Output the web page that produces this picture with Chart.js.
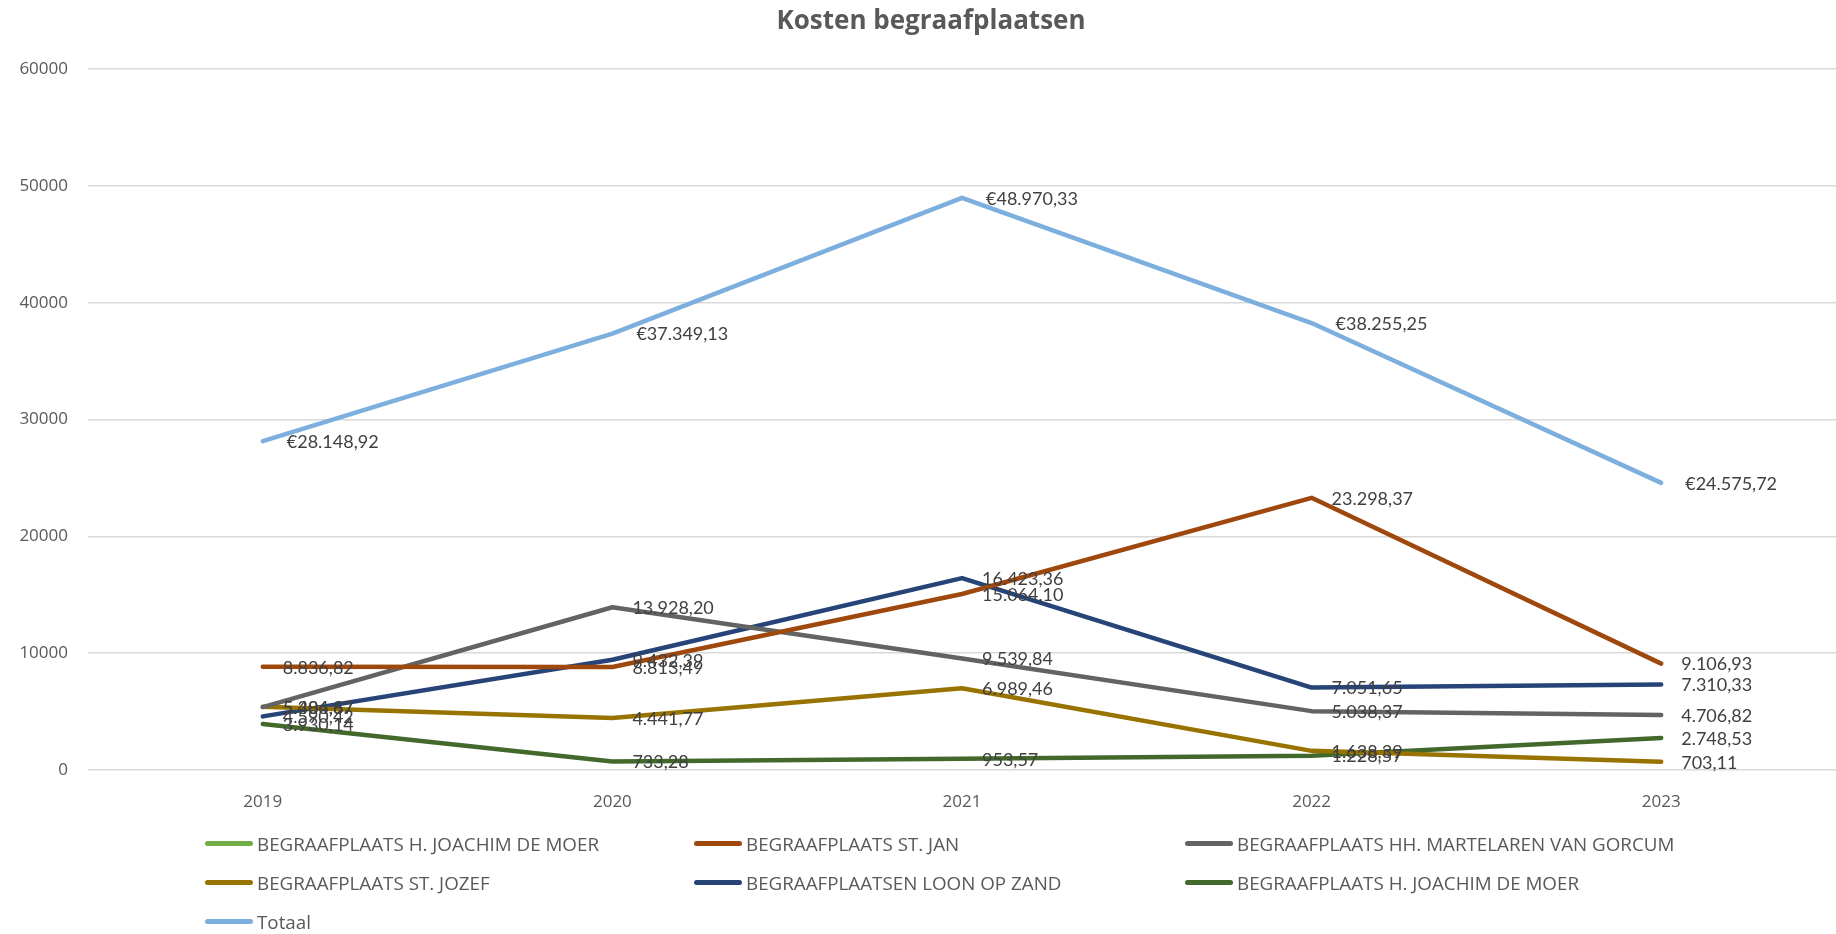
<!DOCTYPE html>
<html>
<head>
<meta charset="utf-8">
<script src="https://cdn.jsdelivr.net/npm/chart.js@4.4.1/dist/chart.umd.min.js"></script>
<style>
  html, body { margin: 0; padding: 0; background: #fff; }
  #wrap { position: relative; width: 1836px; height: 934px; overflow: hidden; }
  #legend {
    position: absolute; left: 205px; top: 824px;
    display: grid; grid-template-columns: 489px 491px 489px;
    grid-auto-rows: 39px;
    font-family: "Liberation Sans Narrow", "Open Sans", sans-serif;
    font-size: 18.8px; color: #595959;
  }
  .item { display: flex; align-items: center; white-space: nowrap; }
  .swatch { width: 48px; height: 5px; border-radius: 3px; margin-right: 4px; flex: none; }
</style>
</head>
<body>
<div id="wrap">
  <canvas id="chart" width="1836" height="934"></canvas>
  <div id="legend"></div>
</div>
<script>
const years = ["2019", "2020", "2021", "2022", "2023"];

const seriesNames = [
    "BEGRAAFPLAATS H. JOACHIM DE MOER",
    "BEGRAAFPLAATS ST. JAN",
    "BEGRAAFPLAATS HH. MARTELAREN VAN GORCUM",
    "BEGRAAFPLAATS ST. JOZEF",
    "BEGRAAFPLAATSEN LOON OP ZAND",
    "BEGRAAFPLAATS H. JOACHIM DE MOER",
    "Totaal"
];
const seriesColors = ["#70ad47", "#9e480e", "#636363", "#997300", "#264478", "#43682b", "#7cafdd"];

// values per series, in euro
const joachimEmpty = [null, null, null, null, null];
const stJan = [8836.82, 8813.49, 15064.10, 23298.37, 9106.93];
const martelaren = [5386.87, 13928.20, 9539.84, 5038.37, 4706.82];
const stJozef = [5404.67, 4441.77, 6989.46, 1638.39, 703.11];
const loonOpZand = [4590.42, 9432.39, 16423.36, 7051.65, 7310.33];
const joachim = [3930.14, 733.28, 953.57, 1228.57, 2748.53];
const totaal = [28148.92, 37349.13, 48970.33, 38255.25, 24575.72];

const seriesValues = [joachimEmpty, stJan, martelaren, stJozef, loonOpZand, joachim, totaal];

const yTicks = [0, 10000, 20000, 30000, 40000, 50000, 60000];

// Dutch number format: 28.148,92
function fmt(v) {
    const parts = v.toFixed(2).split(".");
    return parts[0].replace(/\B(?=(\d{3})+(?!\d))/g, ".") + "," + parts[1];
}

// title, drawn a little right of centre like the original
const chartTitle = {
    id: "chartTitle",
    afterDraw(chart) {
        const ctx = chart.ctx;
        ctx.save();
        ctx.font = "bold 26px 'Open Sans', Lato, sans-serif";
        ctx.fillStyle = "#595959";
        ctx.textAlign = "center";
        ctx.textBaseline = "middle";
        ctx.fillText("Kosten begraafplaatsen", 931, 22);
        ctx.restore();
    }
};

// draw the value next to every point
const valueLabels = {
    id: "valueLabels",
    afterDatasetsDraw(chart) {
        const ctx = chart.ctx;
        ctx.save();
        ctx.font = "18px Lato, 'Open Sans', sans-serif";
        ctx.fillStyle = "#404040";
        ctx.textBaseline = "middle";
        ctx.textAlign = "left";
        chart.data.datasets.forEach((ds, i) => {
            const meta = chart.getDatasetMeta(i);
            meta.data.forEach((pt, j) => {
                const v = ds.data[j];
                if (v === null) return;
                const isTotal = ds.label === "Totaal";
                const txt = (isTotal ? "€" : "") + fmt(v);
                ctx.fillText(txt, pt.x + (isTotal ? 24 : 20), pt.y + 1);
            });
        });
        ctx.restore();
    }
};

const chart = new Chart(document.getElementById("chart"), {
    type: "line",
    data: {
        labels: years,
        datasets: seriesNames.map((name, i) => ({
            label: name,
            data: seriesValues[i],
            borderColor: seriesColors[i],
            backgroundColor: seriesColors[i],
            borderWidth: 4.5,
            pointRadius: 0,
            tension: 0,
            borderCapStyle: "round",
            borderJoinStyle: "round"
        }))
    },
    options: {
        responsive: false,
        animation: false,
        layout: { padding: { left: 0, right: 0, top: 69, bottom: 0 } },
        plugins: {
            legend: { display: false },
            tooltip: { enabled: false },
            title: { display: false }
        },
        scales: {
            x: {
                offset: true,
                grid: { display: false },
                border: { display: false },
                ticks: {
                    color: "#595959",
                    font: { family: "'Open Sans', sans-serif", size: 17 },
                    padding: 14
                },
                afterFit(scale) { scale.height = 164; }
            },
            y: {
                min: 0,
                max: 60000,
                afterBuildTicks(scale) { scale.ticks = yTicks.map(v => ({ value: v })); },
                grid: { color: "#d9d9d9", lineWidth: 1.5, drawTicks: false },
                border: { display: false },
                ticks: {
                    color: "#595959",
                    font: { family: "'Open Sans', sans-serif", size: 17 },
                    padding: 20,
                    callback: v => String(v)
                },
                afterFit(scale) { scale.width = 88; }
            }
        }
    },
    plugins: [valueLabels, chartTitle]
});

// legend in three columns like the original
const legend = document.getElementById("legend");
chart.data.datasets.forEach(ds => {
    const item = document.createElement("div");
    item.className = "item";
    item.innerHTML = `<span class="swatch" style="background:${ds.borderColor}"></span><span>${ds.label}</span>`;
    legend.appendChild(item);
});
</script>
</body>
</html>
